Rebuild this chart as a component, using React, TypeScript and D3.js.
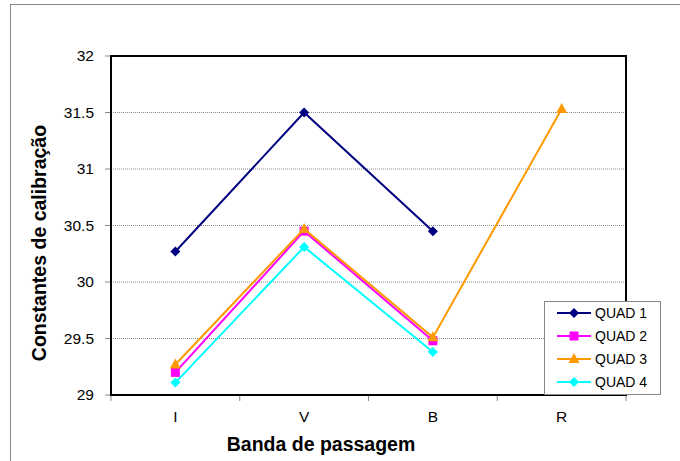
import React from "react";
import * as d3 from "d3";

const categories = ["I", "V", "B", "R"];
const seriesNames = ["QUAD 1", "QUAD 2", "QUAD 3", "QUAD 4"];
const quad1 = [30.27, 31.5, 30.45, null];
const quad2 = [29.2, 30.45, 29.48, null];
const quad3 = [29.27, 30.47, 29.51, 31.53];
const quad4 = [29.11, 30.31, 29.38, null];
const yTicks = [29, 29.5, 30, 30.5, 31, 31.5, 32];
const colors = ["#000080", "#FF00FF", "#FF9900", "#00FFFF"];
const markers = ["diamond", "square", "triangle", "diamond"];

const W = 680, H = 461;
const plot = { left: 111, right: 626, top: 56, bottom: 395 };
const font = "Arial, 'Liberation Sans', sans-serif";

function Marker({ type, x, y, color }: { type: string; x: number; y: number; color: string }) {
  if (type === "square") return <rect x={x - 4.5} y={y - 4.5} width={9} height={9} fill={color} />;
  if (type === "triangle")
    return <path d={`M${x},${y - 6} L${x + 5.5},${y + 4} L${x - 5.5},${y + 4} Z`} fill={color} />;
  return <path d={`M${x},${y - 5} L${x + 5},${y} L${x},${y + 5} L${x - 5},${y} Z`} fill={color} />;
}

export default function App() {
  const x = d3.scaleBand<string>().domain(categories).range([plot.left, plot.right]);
  const y = d3.scaleLinear().domain([29, 32]).range([plot.bottom, plot.top]);
  const all = [quad1, quad2, quad3, quad4];
  const line = d3
    .line<[string, number | null]>()
    .defined((d) => d[1] != null)
    .x((d) => x(d[0])! + x.bandwidth() / 2)
    .y((d) => y(d[1] as number));
  const bounds = [...categories.map((c) => x(c)!), plot.right];
  const legX = 544, legY = 301, legW = 116, legH = 93;

  return (
    <svg width={W} height={H} style={{ position: "absolute", left: 0, top: 0, fontFamily: font }}>
      <rect x={0} y={0} width={W} height={H} fill="#fff" />
      <rect x={10.5} y={4.5} width={W} height={H} fill="none" stroke="#888" strokeWidth={1} />
      {yTicks.map((t) => (
        <g key={t}>
          {t !== 29 && t !== 32 && (
            <line x1={plot.left} x2={plot.right} y1={y(t)} y2={y(t)} stroke="#888" strokeDasharray="1,1" strokeWidth={1} />
          )}
          <line x1={plot.left - 6} x2={plot.left} y1={y(t)} y2={y(t)} stroke="#888" />
          <text x={94} y={y(t)} dy="0.35em" textAnchor="end" fontSize={15.5}>
            {t}
          </text>
        </g>
      ))}
      {bounds.map((b, i) => (
        <line key={i} x1={b} x2={b} y1={plot.bottom} y2={plot.bottom + 6} stroke="#888" />
      ))}
      {categories.map((c) => (
        <text key={c} x={x(c)! + x.bandwidth() / 2} y={422} textAnchor="middle" fontSize={15.5}>
          {c}
        </text>
      ))}
      <rect x={plot.left} y={plot.top} width={plot.right - plot.left} height={plot.bottom - plot.top} fill="none" stroke="#000" strokeWidth={2} />
      {all.map((s, i) => {
        const pts = categories.map((c, j) => [c, s[j]] as [string, number | null]);
        return (
          <g key={i}>
            <path d={line(pts)!} fill="none" stroke={colors[i]} strokeWidth={2} />
            {pts
              .filter((p) => p[1] != null)
              .map((p) => (
                <Marker key={p[0]} type={markers[i]} x={x(p[0])! + x.bandwidth() / 2} y={y(p[1] as number)} color={colors[i]} />
              ))}
          </g>
        );
      })}
      <text x={321} y={451} textAnchor="middle" fontSize={19.5} fontWeight="bold">
        Banda de passagem
      </text>
      <text transform={`translate(46,243) rotate(-90)`} textAnchor="middle" fontSize={19.5} fontWeight="bold">
        Constantes de calibração
      </text>
      <rect x={legX + 0.5} y={legY + 0.5} width={legW} height={legH} fill="#fff" stroke="#888" />
      {seriesNames.map((n, i) => {
        const ly = 313 + i * 23;
        return (
          <g key={n}>
            <line x1={557} x2={591} y1={ly} y2={ly} stroke={colors[i]} strokeWidth={2} />
            <Marker type={markers[i]} x={574} y={ly} color={colors[i]} />
            <text x={595} y={ly} dy="0.35em" fontSize={14}>
              {n}
            </text>
          </g>
        );
      })}
    </svg>
  );
}
